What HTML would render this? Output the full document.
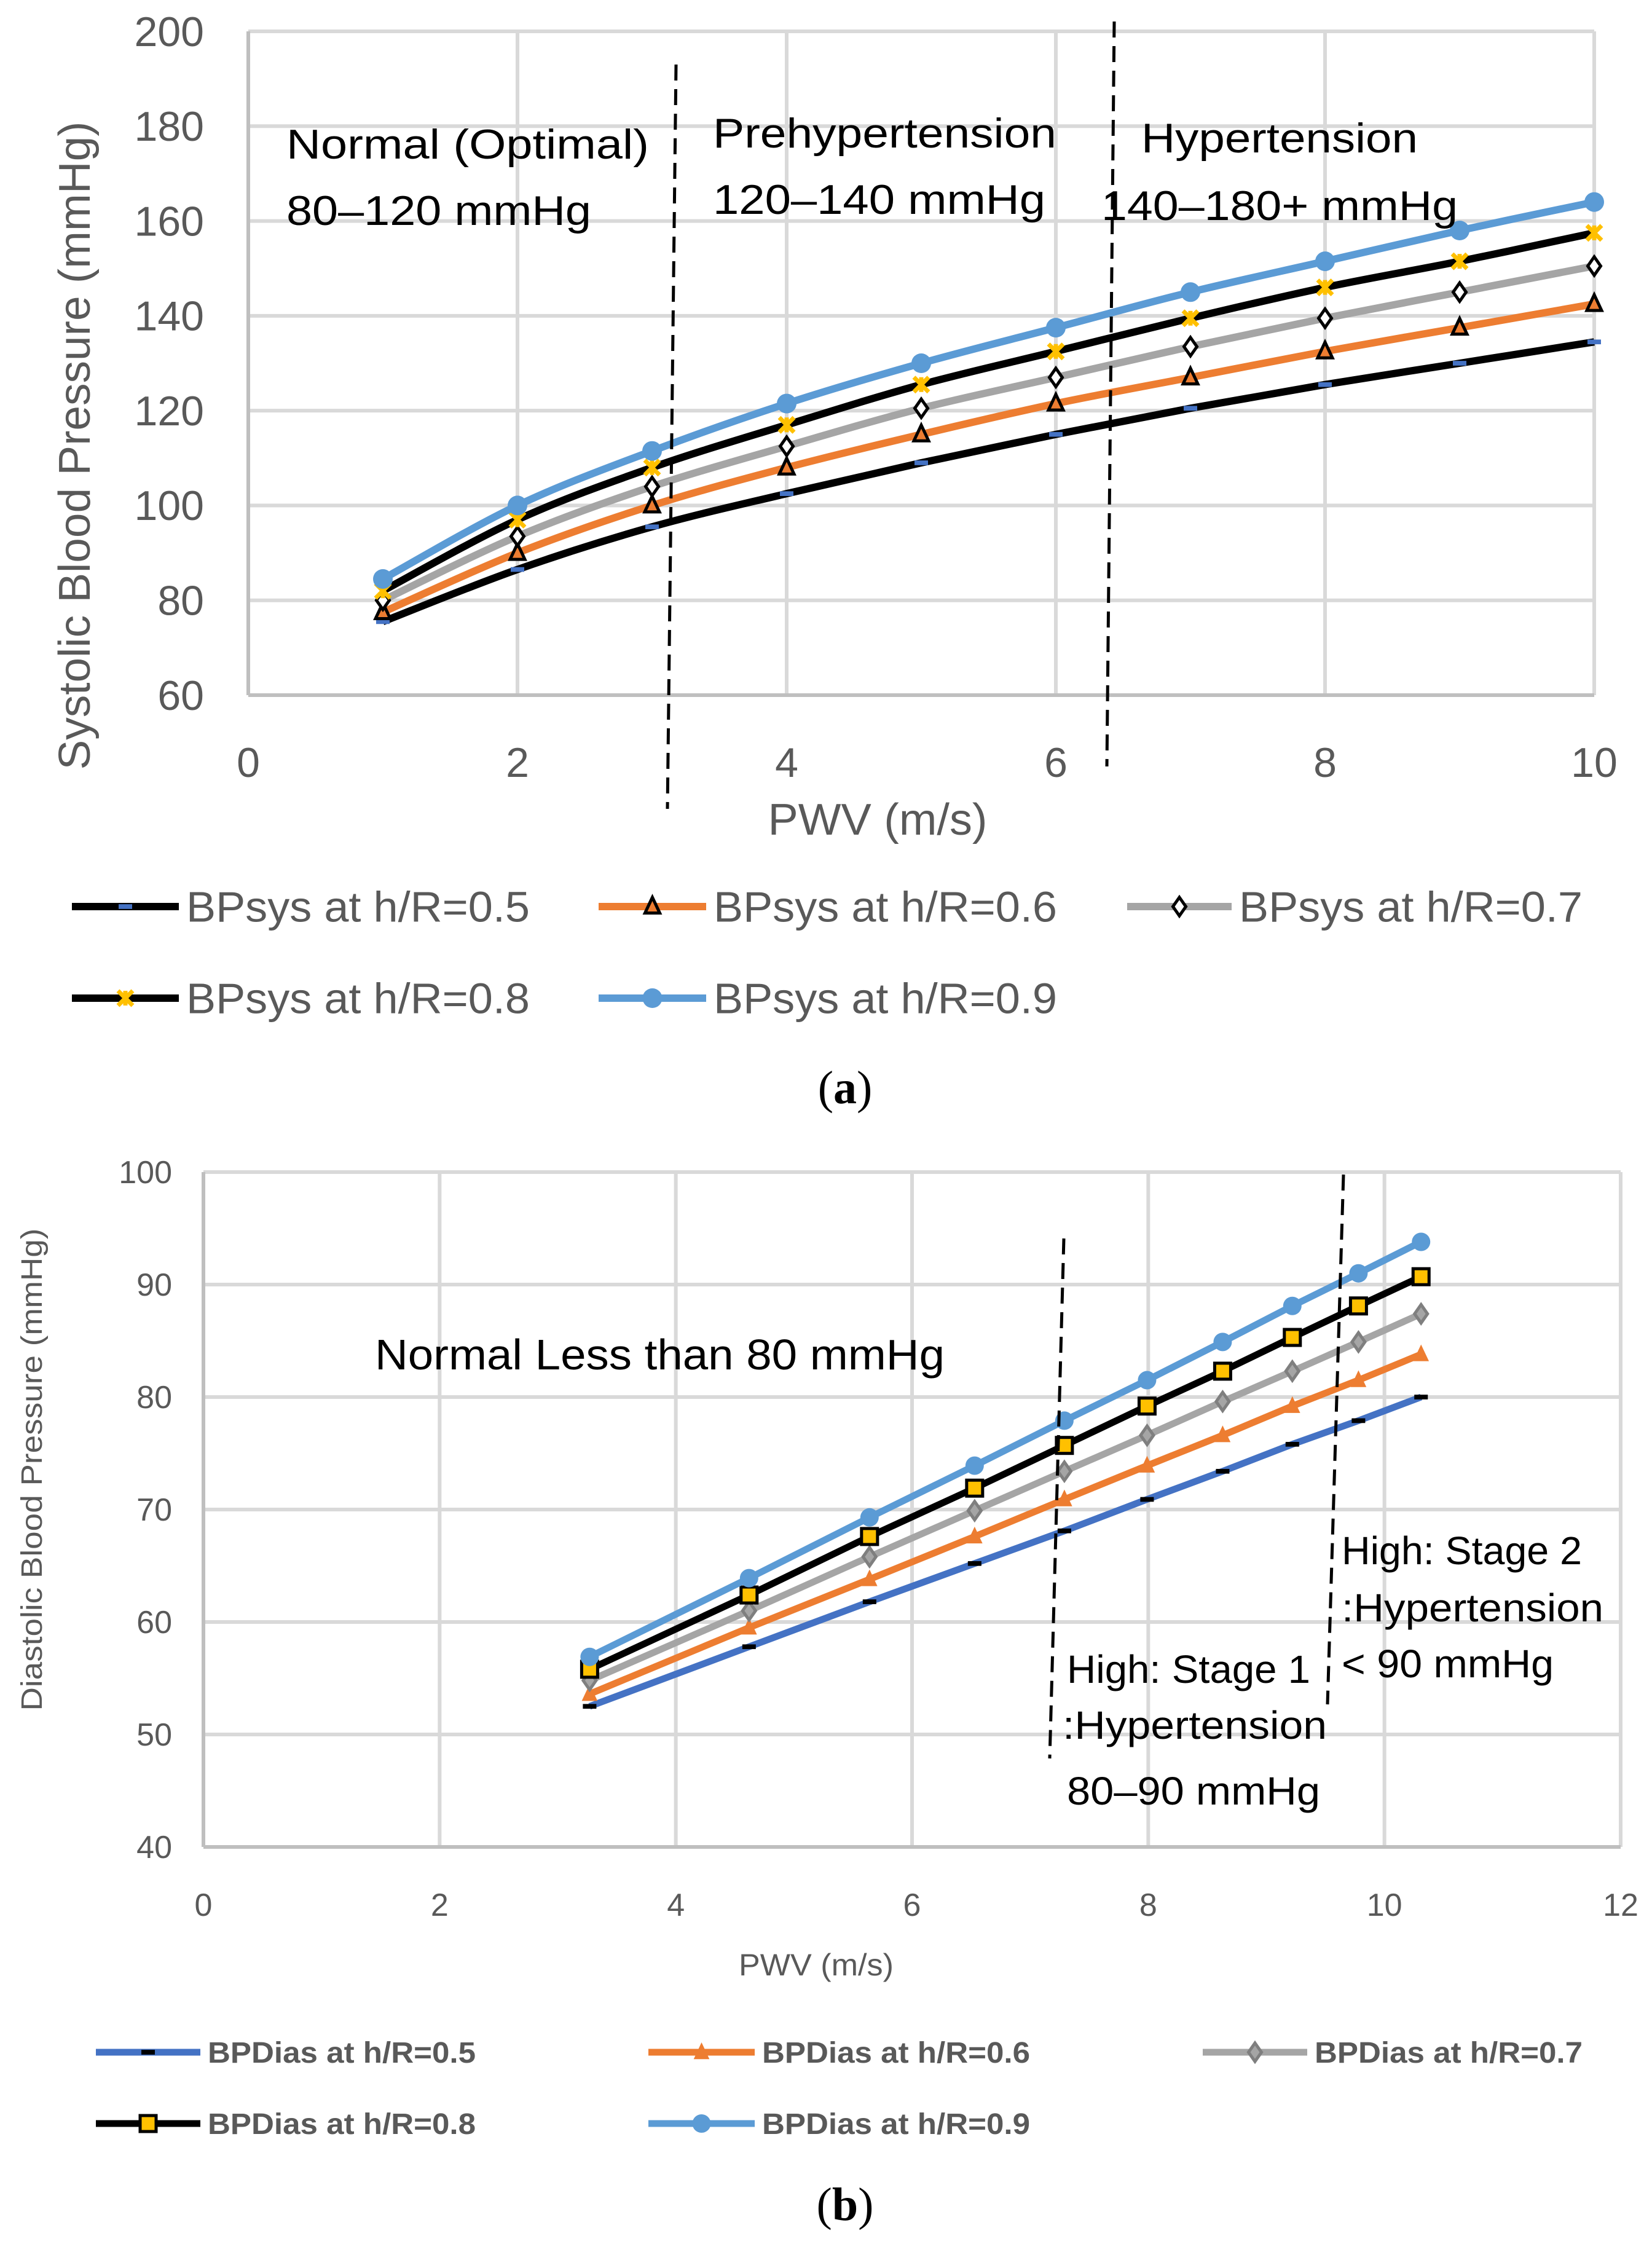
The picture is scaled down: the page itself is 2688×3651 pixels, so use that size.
<!DOCTYPE html>
<html><head><meta charset="utf-8"><style>
html,body{margin:0;padding:0;background:#fff;}
svg{display:block;}
text{font-family:"Liberation Sans",sans-serif;}
</style></head><body>
<svg id="fig" width="2688" height="3651" viewBox="0 0 2688 3651" xmlns="http://www.w3.org/2000/svg"></svg>
<script>
// Chart (a) data
const aX = [1,2,3,4,5,6,7,8,9,10];
const aS05 = [75.5,86.5,95.5,102.5,109,115,120.5,125.5,130,134.5];
const aS06 = [77.5,90,100,108,115,121.5,127,132.5,137.5,142.5];
const aS07 = [80,93.5,104,112.5,120.5,127,133.5,139.5,145,150.5];
const aS08 = [82,97,108,117,125.5,132.5,139.5,146,151.5,157.5];
const aS09 = [84.5,100,111.5,121.5,130,137.5,145,151.5,158,164];
const aYTicks = [60,80,100,120,140,160,180,200];
const aXTicks = [0,2,4,6,8,10];
const aLabels = ["BPsys at h/R=0.5","BPsys at h/R=0.6","BPsys at h/R=0.7","BPsys at h/R=0.8","BPsys at h/R=0.9"];
// Chart (b) data
const bX = [3.27,4.62,5.64,6.53,7.29,7.99,8.63,9.22,9.78,10.31];
const bS05 = [52.5,57.8,61.8,65.2,68.1,70.9,73.4,75.8,77.9,80];
const bS06 = [53.6,59.5,63.8,67.6,70.9,73.9,76.6,79.2,81.5,83.8];
const bS07 = [54.8,61,65.8,69.9,73.4,76.6,79.6,82.3,84.9,87.4];
const bS08 = [55.8,62.4,67.6,71.9,75.7,79.2,82.3,85.3,88.1,90.7];
const bS09 = [56.9,63.9,69.3,73.9,77.9,81.5,84.9,88.1,91,93.8];
const bYTicks = [40,50,60,70,80,90,100];
const bXTicks = [0,2,4,6,8,10,12];
const bLabels = ["BPDias at h/R=0.5","BPDias at h/R=0.6","BPDias at h/R=0.7","BPDias at h/R=0.8","BPDias at h/R=0.9"];

const NS="http://www.w3.org/2000/svg";
const svg=document.getElementById('fig');
function mk(tag,attrs,parent){const e=document.createElementNS(NS,tag);for(const k in attrs)e.setAttribute(k,attrs[k]);(parent||svg).appendChild(e);return e;}
function txt(s,attrs,parent){const e=mk('text',attrs,parent);e.textContent=s;return e;}

const ax={x0:404,x1:2594,y0:1131,y1:51,xmin:0,xmax:10,ymin:60,ymax:200};
const bx={x0:331,x1:2637,y0:3005,y1:1907,xmin:0,xmax:12,ymin:40,ymax:100};
function sx(a,v){return a.x0+(v-a.xmin)/(a.xmax-a.xmin)*(a.x1-a.x0);}
function sy(a,v){return a.y0-(v-a.ymin)/(a.ymax-a.ymin)*(a.y0-a.y1);}

function grid(a,xt,yt,g,fs,xly,ylx){
  xt.forEach(v=>{const x=sx(a,v);
    if(v!==a.xmin){const l=mk('line',{x1:x,x2:x,y1:a.y1,y2:a.y0,stroke:'#d9d9d9','stroke-width':6},g);
    
    }
    const t=txt(String(v),{x:x,y:xly,'font-size':fs,fill:'#595959','text-anchor':'middle'},g);
    
    
  });
  yt.forEach(v=>{const y=sy(a,v);
    if(v!==a.ymin){const l=mk('line',{x1:a.x0,x2:a.x1,y1:y,y2:y,stroke:'#d9d9d9','stroke-width':6},g);
    
    }
    const t=txt(String(v),{x:ylx,y:y+fs*0.35,'font-size':fs,fill:'#595959','text-anchor':'end'},g);
    
    
  });
  const xa=mk('line',{x1:a.x0,x2:a.x1,y1:a.y0,y2:a.y0,stroke:'#bfbfbf','stroke-width':6},g);
  
  
  const ya=mk('line',{x1:a.x0,x2:a.x0,y1:a.y1,y2:a.y0,stroke:'#bfbfbf','stroke-width':6},g);
  
  
}
function smoothPath(pts){
  let d='M'+pts[0][0]+','+pts[0][1];
  for(let i=0;i<pts.length-1;i++){
    const p0=pts[i-1]||pts[i],p1=pts[i],p2=pts[i+1],p3=pts[i+2]||p2;
    const c1=[p1[0]+(p2[0]-p0[0])/6,p1[1]+(p2[1]-p0[1])/6];
    const c2=[p2[0]-(p3[0]-p1[0])/6,p2[1]-(p3[1]-p1[1])/6];
    d+=' C'+c1[0]+','+c1[1]+' '+c2[0]+','+c2[1]+' '+p2[0]+','+p2[1];
  }return d;
}
function marker(type,x,y,g,s){
  let e;
  if(type==='dash'){e=mk('rect',{x:x-s,y:y-s*0.35,width:2*s,height:s*0.7,fill:g.dataset.mfill||'#4472c4'},g);}
  else if(type==='tri'){e=mk('polygon',{points:`${x},${y-s} ${x-s*0.8},${y+s*0.7} ${x+s*0.8},${y+s*0.7}`,fill:g.dataset.mfill,stroke:g.dataset.mstroke,'stroke-width':5},g);}
  else if(type==='dia'){e=mk('polygon',{points:`${x},${y-s} ${x+s*0.7},${y} ${x},${y+s} ${x-s*0.7},${y}`,fill:g.dataset.mfill,stroke:g.dataset.mstroke,'stroke-width':5},g);}
  else if(type==='star'){e=mk('path',{d:`M${x-s},${y-s} L${x+s},${y+s} M${x+s},${y-s} L${x-s},${y+s} M${x},${y-s} L${x},${y+s}`,stroke:'#ffc000','stroke-width':7},g);}
  else if(type==='sq'){e=mk('rect',{x:x-s,y:y-s,width:2*s,height:2*s,fill:'#ffc000',stroke:'#000','stroke-width':5},g);}
  else if(type==='circ'){e=mk('circle',{cx:x,cy:y,r:s,fill:g.dataset.mfill},g);}
  
  
}
function series(a,xs,ys,smooth,color,mtype,mfill,mstroke,ms,lw,name){
  const g=mk('g',{});
  
  
  g.dataset.mfill=mfill;g.dataset.mstroke=mstroke;
  const pts=xs.map((v,i)=>[sx(a,v),sy(a,ys[i])]);
  const p=mk('path',{d:smooth?smoothPath(pts):'M'+pts.map(p=>p.join(',')).join(' L'),fill:'none',stroke:color,'stroke-width':lw,'stroke-linejoin':'round'},g);
  
  
  pts.forEach(q=>marker(mtype,q[0],q[1],g,ms));
}
function legendEntry(x,y,len,color,mtype,mfill,mstroke,ms,lw,label,fs,tw,bold,name){
  const g=mk('g',{});
  
  
  g.dataset.mfill=mfill;g.dataset.mstroke=mstroke;
  mk('line',{x1:x,x2:x+len,y1:y,y2:y,stroke:color,'stroke-width':lw},g);
  marker(mtype,x+len/2,y,g,ms);
  const t=txt(label,{x:x+len+12,y:y+fs*0.35,'font-size':fs,fill:'#595959',textLength:tw,lengthAdjust:'spacingAndGlyphs','font-weight':bold?'bold':'normal'},g);
  
  
}
function annot(s,x,y,fs,tw,name){
  const t=txt(s,{x:x,y:y,'font-size':fs,fill:'#000',textLength:tw,lengthAdjust:'spacingAndGlyphs'});
  
  
}
function dashed(x1,y1,x2,y2,name){
  const l=mk('line',{x1,y1,x2,y2,stroke:'#000','stroke-width':5,'stroke-dasharray':'26,14'});
  
  
}

// ===== Chart A =====
const gA=mk('g',{});


grid(ax,aXTicks,aYTicks,gA,68,1264,332);
let t=txt('Systolic Blood Pressure (mmHg)',{x:0,y:0,'font-size':72,fill:'#595959','text-anchor':'middle',transform:'translate(146,725) rotate(-90)',textLength:1055,lengthAdjust:'spacingAndGlyphs'});


t=txt('PWV (m/s)',{x:1428,y:1358,'font-size':72,fill:'#595959','text-anchor':'middle',textLength:357,lengthAdjust:'spacingAndGlyphs'});



series(ax,aX,aS05,true,'#000','dash','#4472c4','none',11,12,'series-a-h05');
series(ax,aX,aS06,true,'#ed7d31','tri','#ed7d31','#000',15,12,'series-a-h06');
series(ax,aX,aS07,true,'#a5a5a5','dia','#fff','#000',15,12,'series-a-h07');
series(ax,aX,aS08,true,'#000','star','#ffc000','none',12,12,'series-a-h08');
series(ax,aX,aS09,true,'#5b9bd5','circ','#5b9bd5','none',16,12,'series-a-h09');

dashed(1100,105,1086,1316,'divider-prehypertension');
dashed(1813,35,1801,1247,'divider-hypertension');
annot('Normal (Optimal)',466,258,68,590,'annotation-normal');
annot('80–120 mmHg',466,366,68,496,'annotation-normal-range');
annot('Prehypertension',1160,240,68,559,'annotation-prehypertension');
annot('120–140 mmHg',1160,348,68,541,'annotation-prehypertension-range');
annot('Hypertension',1857,248,68,450,'annotation-hypertension');
annot('140–180+ mmHg',1792,358,68,580,'annotation-hypertension-range');

legendEntry(117,1475,174,'#000','dash','#4472c4','none',11,12,aLabels[0],70,559,false,'legend-entry-a-h05');
legendEntry(974,1475,175,'#ed7d31','tri','#ed7d31','#000',15,12,aLabels[1],70,559,false,'legend-entry-a-h06');
legendEntry(1834,1475,170,'#a5a5a5','dia','#fff','#000',15,12,aLabels[2],70,559,false,'legend-entry-a-h07');
legendEntry(117,1624,174,'#000','star','#ffc000','none',12,12,aLabels[3],70,559,false,'legend-entry-a-h08');
legendEntry(974,1624,175,'#5b9bd5','circ','#5b9bd5','none',16,12,aLabels[4],70,559,false,'legend-entry-a-h09');

t=mk('text',{x:1375,y:1795,'font-size':76,'text-anchor':'middle',style:'font-family:"Liberation Serif",serif'});
t.innerHTML='(<tspan font-weight="bold">a</tspan>)';



// ===== Chart B =====
const gB=mk('g',{});


grid(bx,bXTicks,bYTicks,gB,52,3117,280);
t=txt('Diastolic Blood Pressure  (mmHg)',{x:0,y:0,'font-size':48,fill:'#595959','text-anchor':'middle',transform:'translate(68,2391) rotate(-90)',textLength:785,lengthAdjust:'spacingAndGlyphs'});


t=txt('PWV (m/s)',{x:1328,y:3214,'font-size':50,fill:'#595959','text-anchor':'middle',textLength:252,lengthAdjust:'spacingAndGlyphs'});



series(bx,bX,bS05,false,'#4472c4','dash','#000','none',11,11,'series-b-h05');
series(bx,bX,bS06,false,'#ed7d31','tri','#ed7d31','none',16,11,'series-b-h06');
series(bx,bX,bS07,false,'#a5a5a5','dia','#a5a5a5','#7f7f7f',15,11,'series-b-h07');
series(bx,bX,bS08,false,'#000','sq','#ffc000','#000',13,11,'series-b-h08');
series(bx,bX,bS09,false,'#5b9bd5','circ','#5b9bd5','none',15,11,'series-b-h09');

dashed(1731,2015,1708,2861,'divider-stage1');
dashed(2186,1911,2160,2773,'divider-stage2');
annot('Normal Less than 80 mmHg',610,2228,70,927,'annotation-normal');
annot('High: Stage 1',1736,2738,64,396,'annotation-stage1');
annot(':Hypertension',1729,2829,64,430,'annotation-stage1-hypertension');
annot('80–90 mmHg',1736,2936,64,412,'annotation-stage1-range');
annot('High: Stage 2',2183,2545,64,391,'annotation-stage2');
annot(':Hypertension',2183,2638,64,426,'annotation-stage2-hypertension');
annot('< 90 mmHg',2183,2729,64,345,'annotation-stage2-range');

legendEntry(156,3339,170,'#4472c4','dash','#000','none',11,11,bLabels[0],48,436,true,'legend-entry-b-h05');
legendEntry(1055,3339,173,'#ed7d31','tri','#ed7d31','none',16,11,bLabels[1],48,436,true,'legend-entry-b-h06');
legendEntry(1957,3339,170,'#a5a5a5','dia','#a5a5a5','#7f7f7f',15,11,bLabels[2],48,436,true,'legend-entry-b-h07');
legendEntry(156,3455,170,'#000','sq','#ffc000','#000',13,11,bLabels[3],48,436,true,'legend-entry-b-h08');
legendEntry(1055,3455,173,'#5b9bd5','circ','#5b9bd5','none',15,11,bLabels[4],48,436,true,'legend-entry-b-h09');

t=mk('text',{x:1375,y:3612,'font-size':76,'text-anchor':'middle',style:'font-family:"Liberation Serif",serif'});
t.innerHTML='(<tspan font-weight="bold">b</tspan>)';


</script>
</body></html>
